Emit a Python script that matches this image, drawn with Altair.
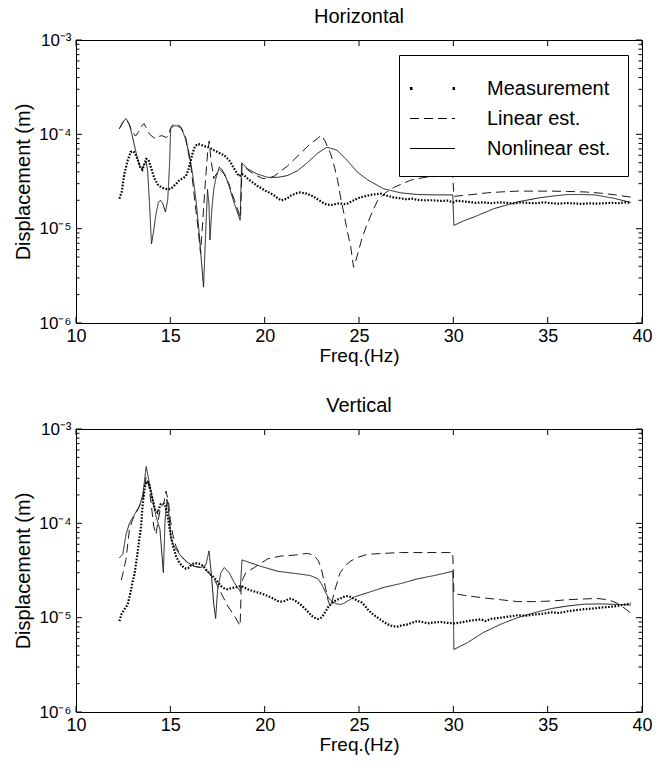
import altair as alt
import pandas as pd

FONT = "Liberation Sans"
SERIES = ["Measurement", "Linear est.", "Nonlinear est."]
PANEL_TITLES = ["Horizontal", "Vertical"]
X_TICKS = [10, 15, 20, 25, 30, 35, 40]
Y_MAJOR = [1e-6, 1e-5, 1e-4, 1e-3]
Y_LABELS = ["10⁻⁶", "10⁻⁵", "10⁻⁴", "10⁻³"]
Y_MINOR = [m * d for d in [1e-6, 1e-5, 1e-4] for m in range(2, 10)]

# ---------------- Horizontal ----------------
H_MEAS_F = [12.3, 12.42, 12.56, 12.74, 12.9, 13.05, 13.15, 13.27, 13.4, 13.52, 13.62, 13.72, 13.84, 13.98,
            14.16, 14.33, 14.51, 14.7, 14.9, 15.04, 15.2, 15.35, 15.5, 15.65, 15.83, 15.95, 16.05, 16.18,
            16.3, 16.45, 16.6, 16.8, 17.0, 17.15, 17.3, 17.5, 17.7, 17.86, 18.0, 18.12, 18.25, 18.39, 18.52,
            18.65, 18.8, 18.9, 19.1, 19.3, 19.45, 19.6, 19.8, 20.0, 20.16, 20.35, 20.5, 20.7, 20.86, 21.0,
            21.2, 21.4, 21.56, 21.75, 21.9, 22.1, 22.26, 22.45, 22.6, 22.8, 22.95, 23.15, 23.3, 23.5, 23.66,
            23.85, 24.0, 24.2, 24.37, 24.55, 24.72, 24.9, 25.07, 25.3, 25.6, 25.9, 26.16, 26.45, 26.8, 27.2,
            27.5, 27.8, 28.1, 28.4, 28.9, 29.3, 29.7, 30.0, 30.2, 30.5, 30.8, 31.2, 31.6, 32.0, 32.4, 32.8,
            33.2, 33.6, 34.0, 34.4, 34.8, 35.2, 35.6, 36.0, 36.4, 36.8, 37.2, 37.6, 38.0, 38.4, 38.8, 39.1, 39.4]
H_MEAS_V = [2.08e-5, 2.45e-5, 3.8e-5, 5.3e-5, 6.5e-5, 6.6e-5, 6.2e-5, 5.4e-5, 4.5e-5, 4.2e-5, 4.8e-5, 5.5e-5,
            5.4e-5, 4.4e-5, 3.4e-5, 2.95e-5, 2.75e-5, 2.65e-5, 2.62e-5, 2.65e-5, 2.85e-5, 3.05e-5, 3.3e-5,
            3.4e-5, 3.6e-5, 4.2e-5, 5.0e-5, 6.3e-5, 7.4e-5, 7.9e-5, 7.8e-5, 7.5e-5, 7.3e-5, 7.1e-5, 6.8e-5,
            6.5e-5, 6.2e-5, 6.0e-5, 5.6e-5, 5.3e-5, 4.8e-5, 4.3e-5, 3.9e-5, 3.6e-5, 3.8e-5, 3.7e-5, 3.4e-5,
            3.15e-5, 3.0e-5, 2.85e-5, 2.7e-5, 2.55e-5, 2.45e-5, 2.35e-5, 2.25e-5, 2.1e-5, 2.0e-5, 2.02e-5,
            2.1e-5, 2.25e-5, 2.32e-5, 2.4e-5, 2.42e-5, 2.38e-5, 2.35e-5, 2.25e-5, 2.18e-5, 2.05e-5, 1.96e-5,
            1.85e-5, 1.8e-5, 1.78e-5, 1.8e-5, 1.84e-5, 1.86e-5, 1.82e-5, 1.84e-5, 1.92e-5, 2.0e-5, 2.08e-5,
            2.15e-5, 2.2e-5, 2.28e-5, 2.32e-5, 2.35e-5, 2.25e-5, 2.15e-5, 2.1e-5, 2.05e-5, 2.08e-5, 2.02e-5,
            2.0e-5, 2.0e-5, 1.97e-5, 1.98e-5, 1.9e-5, 1.98e-5, 1.95e-5, 1.92e-5, 1.88e-5, 1.9e-5, 1.86e-5,
            1.9e-5, 1.88e-5, 1.85e-5, 1.9e-5, 1.87e-5, 1.86e-5, 1.9e-5, 1.86e-5, 1.84e-5, 1.87e-5, 1.85e-5,
            1.83e-5, 1.86e-5, 1.84e-5, 1.86e-5, 1.88e-5, 1.86e-5, 1.9e-5, 1.88e-5]

H_LIN_F = [12.3, 12.5, 12.65, 12.8, 12.95, 13.15, 13.3, 13.45, 13.6, 13.75, 13.9, 14.1, 14.24, 14.4, 14.55,
           14.75, 14.9, 15.0, 15.15, 15.35, 15.55, 15.7, 15.83, 15.95, 16.1, 16.27, 16.45, 16.6, 16.72, 16.85,
           16.98, 17.06, 17.15, 17.3, 17.6, 17.85, 18.1, 18.4, 18.72, 18.8, 19.1, 19.5, 19.9, 20.2, 20.5,
           20.8, 21.2, 21.56, 21.9, 22.26, 22.55, 22.8, 23.0, 23.2, 23.5, 23.7, 23.86, 24.05, 24.2, 24.4,
           24.57, 24.71, 24.82, 24.93, 25.15, 25.37, 25.7, 25.99, 26.4, 26.87, 27.3, 27.8, 28.5, 29.2, 29.97,
           30.03, 30.5, 31.1, 31.8, 32.5, 33.4, 34.3, 35.2, 36.06, 37.0, 37.8, 38.6, 39.4]
H_LIN_V = [1.15e-4, 1.35e-4, 1.45e-4, 1.3e-4, 1.1e-4, 9.6e-5, 1.05e-4, 1.2e-4, 1.3e-4, 1.15e-4, 1.0e-4,
           9.3e-5, 9.0e-5, 9.5e-5, 9.7e-5, 9.3e-5, 9.5e-5, 1.15e-4, 1.28e-4, 1.28e-4, 1.2e-4, 1.05e-4, 9.0e-5,
           6.5e-5, 4.4e-5, 2.2e-5, 1.1e-5, 5.5e-6, 1.2e-5, 3.0e-5, 6.5e-5, 8.5e-5, 5.5e-5, 3.4e-5, 4.3e-5,
           3.8e-5, 3.0e-5, 2.0e-5, 1.3e-5, 4.8e-5, 4.2e-5, 3.7e-5, 3.4e-5, 3.4e-5, 3.6e-5, 4.0e-5, 4.6e-5,
           5.4e-5, 6.3e-5, 7.4e-5, 8.3e-5, 9.0e-5, 9.8e-5, 8.5e-5, 6.2e-5, 4.5e-5, 3.3e-5, 2.0e-5, 1.45e-5,
           9.0e-6, 6.3e-6, 3.9e-6, 4.5e-6, 5.4e-6, 7.8e-6, 1.04e-5, 1.5e-5, 2.0e-5, 2.4e-5, 2.75e-5, 3.0e-5,
           3.3e-5, 3.5e-5, 3.6e-5, 3.7e-5, 2.2e-5, 2.25e-5, 2.31e-5, 2.4e-5, 2.45e-5, 2.5e-5, 2.5e-5, 2.5e-5,
           2.48e-5, 2.45e-5, 2.38e-5, 2.28e-5, 2.16e-5]

H_NL_F = [12.3, 12.48, 12.65, 12.83, 13.0, 13.2, 13.37, 13.5, 13.62, 13.72, 13.8, 13.9, 14.0, 14.1, 14.24,
          14.37, 14.47, 14.6, 14.74, 14.86, 14.95, 15.02, 15.15, 15.3, 15.45, 15.56, 15.7, 15.8, 16.0, 16.18,
          16.36, 16.53, 16.65, 16.76, 16.85, 16.97, 17.05, 17.1, 17.2, 17.3, 17.41, 17.6, 17.75, 17.9, 18.12,
          18.39, 18.55, 18.7, 18.78, 19.1, 19.6, 20.16, 20.7, 21.2, 21.73, 22.26, 22.8, 23.3, 23.83, 24.37,
          24.9, 25.45, 26.3, 27.2, 28.1, 29.15, 29.97, 30.03, 30.5, 31.1, 32.15, 33.4, 34.6, 35.3, 36.06,
          36.8, 37.5, 38.5, 39.4]
H_NL_V = [1.15e-4, 1.35e-4, 1.47e-4, 1.28e-4, 9.3e-5, 6.2e-5, 4.7e-5, 4.3e-5, 4.8e-5, 5.2e-5, 4.0e-5, 1.8e-5,
          6.9e-6, 9.0e-6, 1.44e-5, 1.9e-5, 2.0e-5, 1.85e-5, 1.5e-5, 2.0e-5, 4.4e-5, 1.15e-4, 1.22e-4, 1.24e-4,
          1.2e-4, 1.17e-4, 1.02e-4, 9.0e-5, 6.2e-5, 3.8e-5, 2.0e-5, 8.9e-6, 4.5e-6, 2.4e-6, 7.0e-6, 2.6e-5,
          1.8e-5, 7.6e-6, 1.6e-5, 2.6e-5, 3.4e-5, 4.5e-5, 4.2e-5, 3.7e-5, 2.8e-5, 1.85e-5, 1.5e-5, 1.23e-5,
          5.0e-5, 4.3e-5, 3.8e-5, 3.5e-5, 3.5e-5, 3.65e-5, 4.1e-5, 5.0e-5, 6.3e-5, 7.3e-5, 6.8e-5, 5.3e-5,
          4.0e-5, 3.3e-5, 2.65e-5, 2.4e-5, 2.3e-5, 2.28e-5, 2.28e-5, 1.08e-5, 1.2e-5, 1.33e-5, 1.63e-5,
          1.92e-5, 2.13e-5, 2.22e-5, 2.3e-5, 2.3e-5, 2.28e-5, 2.1e-5, 1.9e-5]

# ---------------- Vertical ----------------
V_MEAS_F = [12.3, 12.42, 12.56, 12.74, 12.9, 13.0, 13.1, 13.24, 13.33, 13.45, 13.54, 13.66, 13.77, 13.89,
            14.06, 14.19, 14.33, 14.47, 14.6, 14.72, 14.86, 15.0, 15.13, 15.3, 15.48, 15.65, 15.83, 15.95,
            16.1, 16.27, 16.45, 16.62, 16.8, 16.97, 17.15, 17.33, 17.5, 17.68, 17.85, 18.04, 18.2, 18.39,
            18.55, 18.74, 18.9, 19.1, 19.35, 19.63, 19.9, 20.16, 20.45, 20.7, 20.9, 21.06, 21.25, 21.4, 21.6,
            21.77, 21.95, 22.13, 22.3, 22.48, 22.65, 22.84, 23.0, 23.1, 23.25, 23.37, 23.55, 23.72, 23.9,
            24.07, 24.25, 24.43, 24.6, 24.78, 24.95, 25.14, 25.3, 25.46, 25.7, 25.99, 26.25, 26.52, 26.8,
            27.05, 27.3, 27.58, 27.85, 28.1, 28.35, 28.63, 29.0, 29.34, 29.7, 30.05, 30.4, 30.76, 31.1, 31.47,
            31.7, 32.0, 32.53, 33.0, 33.4, 33.85, 34.3, 34.75, 35.2, 35.6, 36.06, 36.5, 36.94, 37.4, 37.83,
            38.25, 38.7, 39.1, 39.4]
V_MEAS_V = [9.2e-6, 1.1e-5, 1.22e-5, 1.38e-5, 1.9e-5, 2.4e-5, 2.9e-5, 4.5e-5, 6.2e-5, 9.3e-5, 1.64e-4,
            2.47e-4, 2.8e-4, 2.55e-4, 1.79e-4, 1.4e-4, 1.3e-4, 1.58e-4, 1.63e-4, 1.58e-4, 1.19e-4, 7.9e-5,
            5.9e-5, 4.5e-5, 3.8e-5, 3.5e-5, 3.3e-5, 3.35e-5, 3.6e-5, 3.8e-5, 3.75e-5, 3.7e-5, 3.4e-5, 3.1e-5,
            2.85e-5, 2.65e-5, 2.4e-5, 2.17e-5, 2.05e-5, 2.0e-5, 2.05e-5, 2.08e-5, 2.12e-5, 2.17e-5, 2.1e-5,
            2.0e-5, 1.92e-5, 1.85e-5, 1.78e-5, 1.7e-5, 1.6e-5, 1.5e-5, 1.48e-5, 1.5e-5, 1.57e-5, 1.6e-5,
            1.52e-5, 1.44e-5, 1.35e-5, 1.25e-5, 1.15e-5, 1.05e-5, 1.0e-5, 9.7e-6, 1.0e-5, 1.06e-5, 1.18e-5,
            1.3e-5, 1.42e-5, 1.5e-5, 1.57e-5, 1.62e-5, 1.68e-5, 1.7e-5, 1.64e-5, 1.57e-5, 1.5e-5, 1.45e-5,
            1.35e-5, 1.23e-5, 1.1e-5, 1.0e-5, 9.2e-6, 8.5e-6, 8.1e-6, 8.05e-6, 8.3e-6, 8.5e-6, 8.9e-6, 9.2e-6,
            9.0e-6, 8.7e-6, 8.9e-6, 9.0e-6, 8.8e-6, 8.7e-6, 8.9e-6, 9.2e-6, 9.4e-6, 9.6e-6, 9.2e-6, 9.7e-6,
            1.0e-5, 1.03e-5, 1.06e-5, 1.05e-5, 1.08e-5, 1.1e-5, 1.14e-5, 1.12e-5, 1.17e-5, 1.2e-5, 1.23e-5,
            1.25e-5, 1.28e-5, 1.3e-5, 1.33e-5, 1.38e-5, 1.42e-5]

V_LIN_F = [12.4, 12.48, 12.65, 12.83, 13.0, 13.27, 13.54, 13.72, 13.84, 13.98, 14.12, 14.24, 14.36, 14.5,
           14.65, 14.77, 14.9, 15.0, 15.13, 15.3, 15.56, 15.92, 16.27, 16.62, 16.97, 17.33, 17.68, 18.04,
           18.39, 18.7, 18.76, 18.85, 19.0, 19.45, 20.16, 20.86, 21.56, 22.26, 22.6, 22.85, 23.0, 23.2,
           23.37, 23.5, 23.7, 24.0, 24.3, 24.57, 25.0, 25.46, 26.3, 27.2, 28.5, 29.97, 30.03, 30.6, 31.6,
           32.5, 33.4, 34.3, 35.2, 36.06, 37.0, 37.6, 38.2, 38.7, 39.1, 39.4]
V_LIN_V = [2.5e-5, 2.9e-5, 4.15e-5, 8.6e-5, 1.1e-4, 1.4e-4, 1.79e-4, 3.15e-4, 2.7e-4, 1.64e-4, 9.3e-5,
           7.6e-5, 1.1e-4, 1.5e-4, 1.6e-4, 2.2e-4, 1.7e-4, 1.1e-4, 7.6e-5, 5.7e-5, 4.5e-5, 3.8e-5, 3.5e-5,
           3.4e-5, 3.1e-5, 2.55e-5, 1.84e-5, 1.33e-5, 1.05e-5, 8.2e-6, 2.2e-5, 2.6e-5, 3.0e-5, 3.4e-5, 4.2e-5,
           4.5e-5, 4.6e-5, 4.8e-5, 4.6e-5, 4.0e-5, 3.3e-5, 2.2e-5, 1.5e-5, 1.3e-5, 1.9e-5, 3.0e-5, 3.6e-5,
           4.0e-5, 4.4e-5, 4.7e-5, 4.8e-5, 4.9e-5, 4.9e-5, 4.9e-5, 1.8e-5, 1.72e-5, 1.62e-5, 1.55e-5, 1.48e-5,
           1.48e-5, 1.5e-5, 1.55e-5, 1.58e-5, 1.6e-5, 1.55e-5, 1.42e-5, 1.25e-5, 1.12e-5]

V_NL_F = [12.3, 12.48, 12.65, 12.83, 13.1, 13.36, 13.54, 13.72, 13.89, 14.06, 14.24, 14.45, 14.63, 14.72,
          14.82, 14.9, 15.04, 15.2, 15.56, 15.92, 16.27, 16.62, 16.88, 17.05, 17.18, 17.3, 17.4, 17.51, 17.68,
          17.86, 18.12, 18.39, 18.7, 18.8, 19.27, 19.8, 20.7, 21.56, 22.4, 22.8, 23.0, 23.2, 23.4, 23.6, 23.8,
          24.04, 24.2, 24.4, 24.75, 25.46, 26.34, 27.22, 28.1, 29.0, 29.97, 30.03, 30.76, 31.6, 32.5, 33.4,
          34.3, 35.2, 36.06, 36.94, 37.83, 38.7, 39.4]
V_NL_V = [4.3e-5, 4.7e-5, 7.6e-5, 1.0e-4, 1.24e-4, 1.52e-4, 2.0e-4, 4.0e-4, 2.67e-4, 1.78e-4, 1.19e-4,
          8.6e-5, 3.0e-5, 1.07e-4, 1.8e-4, 1.4e-4, 6.8e-5, 5.7e-5, 4.5e-5, 3.84e-5, 3.5e-5, 3.4e-5, 3.6e-5,
          5.1e-5, 2.8e-5, 1.4e-5, 9.8e-6, 2.0e-5, 3.0e-5, 3.4e-5, 3.0e-5, 2.35e-5, 1.9e-5, 4.1e-5, 3.8e-5,
          3.5e-5, 3.1e-5, 2.95e-5, 2.8e-5, 2.6e-5, 2.3e-5, 1.9e-5, 1.6e-5, 1.48e-5, 1.4e-5, 1.38e-5, 1.42e-5,
          1.5e-5, 1.66e-5, 1.84e-5, 2.1e-5, 2.3e-5, 2.58e-5, 2.8e-5, 3.1e-5, 4.6e-6, 5.45e-6, 6.97e-6, 8.5e-6,
          1.0e-5, 1.13e-5, 1.25e-5, 1.33e-5, 1.39e-5, 1.4e-5, 1.38e-5, 1.36e-5]

W, H = 566, 283


def frame(freqs, values, name):
    return pd.DataFrame({"freq": freqs, "disp": values, "series": name, "idx": range(len(freqs))})


label_expr = ""
for val, lab in zip(Y_MAJOR, Y_LABELS):
    label_expr += f"abs(log(datum.value) - log({val})) < 0.01 ? '{lab}' : "
label_expr += "''"

x_scale = alt.Scale(domain=[10, 40], nice=False, zero=False)
y_scale = alt.Scale(type="log", domain=[1e-6, 1e-3], nice=False)


def panel(title, meas, lin, nl):
    x = alt.X("freq:Q", scale=x_scale,
              axis=alt.Axis(values=X_TICKS, title="Freq.(Hz)", labelFontSize=18, labelPadding=4,
                            labelFlush=False, titleFontSize=19, titleY=32, titleBaseline="middle",
                            grid=False, domain=False, ticks=False, labelFont=FONT, titleFont=FONT,
                            titleFontWeight="normal", labelColor="black", titleColor="black"))
    y = alt.Y("disp:Q", scale=y_scale,
              axis=alt.Axis(values=Y_MAJOR, labelExpr=label_expr, title="Displacement (m)",
                            labelFontSize=17, labelPadding=5, labelFlush=False,
                            titleFontSize=20, titleX=-53, titleY=H / 2, titleBaseline="middle",
                            grid=False, domain=False, ticks=False, labelFont=FONT, titleFont=FONT,
                            titleFontWeight="normal", labelColor="black", titleColor="black"))
    legend = alt.Legend(title=None, orient="none", legendX=323, legendY=15, fillColor="white",
                        strokeColor="black", padding=17, symbolType="M-1.5,0L1.5,0", symbolSize=900,
                        symbolStrokeColor="black", labelFont=FONT, labelFontSize=20, labelColor="black",
                        labelOffset=38, rowPadding=4)
    est = alt.Chart(pd.concat([lin, nl])).mark_line(color="#1a1a1a").encode(
        x=x, y=y,
        strokeDash=alt.StrokeDash("series:N", scale=alt.Scale(domain=SERIES, range=[[2.5, 40], [9, 5], [1, 0]]),
                                  legend=legend),
        strokeWidth=alt.StrokeWidth("series:N",
                                    scale=alt.Scale(type="ordinal", domain=SERIES, range=[3, 1, 1]),
                                    legend=legend),
        order="idx:Q",
    )
    mline = alt.Chart(meas).mark_line(color="black", strokeWidth=2.2, strokeDash=[1.6, 1.6]).encode(
        x=alt.X("freq:Q", scale=x_scale), y=alt.Y("disp:Q", scale=y_scale), order="idx:Q")

    xt = pd.DataFrame({"freq": X_TICKS})
    xt_bot = alt.Chart(xt).mark_rule(color="black").encode(
        x=alt.X("freq:Q", scale=x_scale), y=alt.value(H), y2=alt.value(H - 6))
    xt_top = alt.Chart(xt).mark_rule(color="black").encode(
        x=alt.X("freq:Q", scale=x_scale), y=alt.value(0), y2=alt.value(6))
    ymaj = pd.DataFrame({"disp": Y_MAJOR})
    ymin = pd.DataFrame({"disp": Y_MINOR})
    yt = []
    for df, ln in [(ymaj, 6), (ymin, 3.5)]:
        yt.append(alt.Chart(df).mark_rule(color="black").encode(
            y=alt.Y("disp:Q", scale=y_scale), x=alt.value(0), x2=alt.value(ln)))
        yt.append(alt.Chart(df).mark_rule(color="black").encode(
            y=alt.Y("disp:Q", scale=y_scale), x=alt.value(W - ln), x2=alt.value(W)))

    return alt.layer(est, mline, xt_bot, xt_top, *yt).properties(
        width=W, height=H,
        title=alt.TitleParams(title, fontSize=20, font=FONT, fontWeight="normal", offset=4, color="black"),
    )


top = panel(PANEL_TITLES[0], frame(H_MEAS_F, H_MEAS_V, SERIES[0]), frame(H_LIN_F, H_LIN_V, SERIES[1]),
            frame(H_NL_F, H_NL_V, SERIES[2]))
bot = panel(PANEL_TITLES[1], frame(V_MEAS_F, V_MEAS_V, SERIES[0]), frame(V_LIN_F, V_LIN_V, SERIES[1]),
            frame(V_NL_F, V_NL_V, SERIES[2]))

chart = alt.vconcat(top, bot, spacing=106, bounds="flush").properties(
    padding={"left": 12, "top": 6, "right": 10, "bottom": 10}
).configure_view(stroke="black", strokeWidth=1).configure_axis(
    grid=False, domain=False, ticks=False, labelFont=FONT, titleFont=FONT, labelColor="black",
    titleColor="black", titleFontWeight="normal"
)

chart.save("out.html", embed_options={"renderer": "svg", "actions": False})
